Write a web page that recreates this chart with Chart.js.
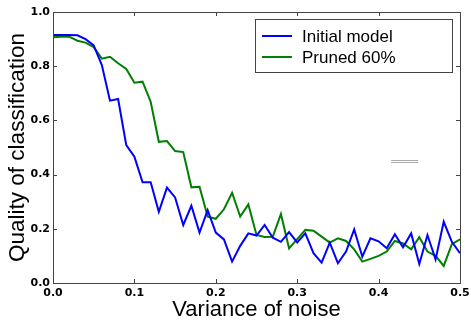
<!DOCTYPE html>
<html>
<head>
<meta charset="utf-8">
<script src="https://cdn.jsdelivr.net/npm/chart.js@4/dist/chart.umd.min.js"></script>
<style>
  html, body { margin: 0; padding: 0; background: #fff; }
  #wrap { width: 471px; height: 323px; }
</style>
</head>
<body>
<div id="wrap"><canvas id="c" width="471" height="323"></canvas></div>
<script>
const noiseVariance = [0.00,0.01,0.02,0.03,0.04,0.05,0.06,0.07,0.08,0.09,0.10,0.11,0.12,0.13,0.14,0.15,0.16,0.17,0.18,0.19,0.20,0.21,0.22,0.23,0.24,0.25,0.26,0.27,0.28,0.29,0.30,0.31,0.32,0.33,0.34,0.35,0.36,0.37,0.38,0.39,0.40,0.41,0.42,0.43,0.44,0.45,0.46,0.47,0.48,0.49,0.50];
const initialModel = [0.915,0.915,0.915,0.914,0.900,0.877,0.804,0.673,0.679,0.509,0.466,0.372,0.372,0.263,0.352,0.316,0.214,0.285,0.186,0.269,0.186,0.161,0.079,0.137,0.183,0.175,0.214,0.167,0.152,0.188,0.150,0.183,0.110,0.075,0.149,0.073,0.116,0.198,0.097,0.165,0.154,0.128,0.180,0.132,0.183,0.070,0.177,0.087,0.226,0.152,0.110];
const pruned60 = [0.907,0.909,0.909,0.894,0.887,0.870,0.828,0.835,0.811,0.790,0.739,0.743,0.669,0.521,0.524,0.487,0.483,0.353,0.355,0.245,0.237,0.272,0.333,0.245,0.290,0.177,0.170,0.171,0.255,0.128,0.162,0.196,0.193,0.171,0.149,0.165,0.155,0.124,0.079,0.089,0.100,0.116,0.155,0.146,0.124,0.169,0.116,0.100,0.063,0.143,0.161];
const seriesLabels = ["Initial model", "Pruned 60%"];
const xTicks = [0.0, 0.1, 0.2, 0.3, 0.4, 0.5];
const yTicks = [0.0, 0.2, 0.4, 0.6, 0.8, 1.0];

const toPoints = arr => arr.map((v, i) => ({ x: noiseVariance[i], y: v }));

const framePlugin = {
  id: 'frame',
  afterDatasetsDraw(chart) {
    const ctx = chart.ctx;
    const a = chart.chartArea;
    const xs = chart.scales.x, ys = chart.scales.y;
    ctx.save();
    // stray grey double line seen in the reference
    ctx.strokeStyle = '#aaaaaa';
    ctx.lineWidth = 1;
    const gx0 = xs.getPixelForValue(0.4155), gx1 = xs.getPixelForValue(0.4485);
    const gy = Math.round(ys.getPixelForValue(0.452));
    ctx.beginPath();
    ctx.moveTo(gx0, gy - 1 + 0.5); ctx.lineTo(gx1, gy - 1 + 0.5);
    ctx.moveTo(gx0, gy + 1 + 0.5); ctx.lineTo(gx1, gy + 1 + 0.5);
    ctx.stroke();
    // frame
    ctx.strokeStyle = '#444';
    ctx.lineWidth = 1;
    ctx.strokeRect(Math.round(a.left) + 0.5, Math.round(a.top) + 0.5,
                   Math.round(a.right - a.left), Math.round(a.bottom - a.top));
    // inward ticks
    const tl = 4;
    ctx.beginPath();
    xTicks.forEach(v => {
      const px = Math.round(xs.getPixelForValue(v)) + 0.5;
      ctx.moveTo(px, a.bottom); ctx.lineTo(px, a.bottom - tl);
      ctx.moveTo(px, a.top); ctx.lineTo(px, a.top + tl);
    });
    yTicks.forEach(v => {
      const py = Math.round(ys.getPixelForValue(v)) + 0.5;
      ctx.moveTo(a.left, py); ctx.lineTo(a.left + tl, py);
      ctx.moveTo(a.right, py); ctx.lineTo(a.right - tl, py);
    });
    ctx.stroke();
    // legend
    const lx = 255, ly = 19, lw = 197, lh = 53;
    ctx.fillStyle = '#fff';
    ctx.fillRect(lx, ly, lw, lh);
    ctx.strokeStyle = '#444';
    ctx.strokeRect(lx + 0.5, ly + 0.5, lw, lh);
    const rows = [36, 57];
    chart.data.datasets.forEach((ds, i) => {
      ctx.strokeStyle = ds.borderColor;
      ctx.lineWidth = 2;
      ctx.beginPath();
      ctx.moveTo(262, rows[i]); ctx.lineTo(292, rows[i]);
      ctx.stroke();
      ctx.fillStyle = '#000';
      ctx.font = '17px "Liberation Sans", Arial, sans-serif';
      ctx.textBaseline = 'middle';
      ctx.textAlign = 'left';
      ctx.fillText(ds.label, 302, rows[i] + 1);
    });
    ctx.restore();
  }
};

new Chart(document.getElementById('c'), {
  type: 'line',
  data: {
    datasets: [
      { label: seriesLabels[0], data: toPoints(initialModel), borderColor: '#0000ff', borderWidth: 2, pointRadius: 0, tension: 0, fill: false },
      { label: seriesLabels[1], data: toPoints(pruned60), borderColor: '#007f00', borderWidth: 2, pointRadius: 0, tension: 0, fill: false }
    ]
  },
  options: {
    responsive: false,
    animation: false,
    devicePixelRatio: 1,
    layout: { padding: { left: 0, right: 11, top: 12, bottom: 0 } },
    plugins: { legend: { display: false }, tooltip: { enabled: false } },
    scales: {
      x: {
        type: 'linear', min: 0, max: 0.5,
        afterBuildTicks: s => { s.ticks = xTicks.map(v => ({ value: v })); },
        afterFit: s => { s.height = 40; s.paddingLeft = 0; s.paddingRight = 0; },
        grid: { display: false, drawTicks: false },
        border: { display: false },
        ticks: { padding: 4, color: '#000', font: { family: '"DejaVu Sans"', size: 11, weight: 'bold' }, callback: v => v.toFixed(1), maxRotation: 0, autoSkip: false },
        title: { display: true, text: 'Variance of noise', color: '#000', font: { family: '"Liberation Sans", Arial, sans-serif', size: 22 }, padding: { top: 0, bottom: 0 } }
      },
      y: {
        type: 'linear', min: 0, max: 1.0,
        afterBuildTicks: s => { s.ticks = yTicks.map(v => ({ value: v })); },
        afterFit: s => { s.width = 53; s.paddingTop = 0; s.paddingBottom = 0; },
        grid: { display: false, drawTicks: false },
        border: { display: false },
        ticks: { padding: 3, color: '#000', font: { family: '"DejaVu Sans"', size: 11, weight: 'bold' }, callback: v => v.toFixed(1), autoSkip: false },
        title: { display: true, text: 'Quality of classification', color: '#000', font: { family: '"Liberation Sans", Arial, sans-serif', size: 22.5 }, padding: { top: 4, bottom: 0 } }
      }
    }
  },
  plugins: [framePlugin]
});
</script>
</body>
</html>
